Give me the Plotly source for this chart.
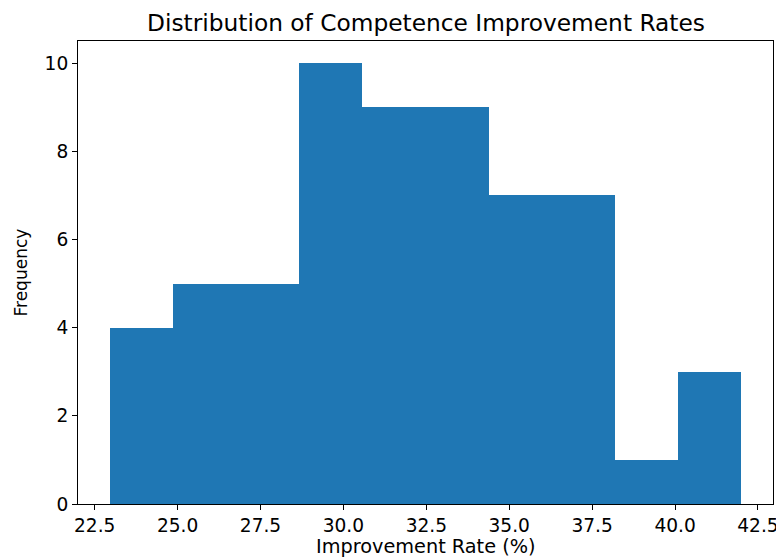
import plotly.graph_objects as go

# Histogram bins
bin_edges = [22.95, 24.855, 26.76, 28.665, 30.57, 32.475, 34.38, 36.285, 38.19, 40.095, 42.0]
counts = [4, 5, 5, 10, 9, 9, 7, 7, 1, 3]
x_ticks = [22.5, 25.0, 27.5, 30.0, 32.5, 35.0, 37.5, 40.0, 42.5]
y_ticks = [0, 2, 4, 6, 8, 10]

centers = [(a + b) / 2 for a, b in zip(bin_edges[:-1], bin_edges[1:])]
widths = [b - a for a, b in zip(bin_edges[:-1], bin_edges[1:])]

font = "DejaVu Sans"
W, H = 776, 558
L, R, T, B = 78, 3, 41, 54
fig = go.Figure(go.Bar(x=centers, y=counts, width=widths, marker=dict(color="#1f77b4", line=dict(width=0))))

lo, hi = bin_edges[0], bin_edges[-1]
m = (hi - lo) * 0.05
axis_common = dict(ticks="outside", ticklen=5, tickwidth=1, tickcolor="black",
                   showline=True, linecolor="black", linewidth=1, mirror=True,
                   showgrid=False, zeroline=False, tickfont=dict(size=18.6), automargin=False,
                   ticklabeloverflow="allow")
fig.update_layout(
    width=W, height=H,
    margin=dict(l=L, r=R, t=T, b=B, autoexpand=False),
    paper_bgcolor="white", plot_bgcolor="white",
    bargap=0,
    showlegend=False,
    font=dict(family=font, size=19, color="black"),
    xaxis=dict(range=[lo - m, hi + m], tickvals=x_ticks, ticktext=[f"{v:.1f}" for v in x_ticks], **axis_common),
    yaxis=dict(range=[0, 10.5], tickvals=y_ticks, **axis_common),
    annotations=[
        dict(text="Distribution of Competence Improvement Rates", xref="paper", yref="paper",
             x=0.5, y=1 + (T - 22) / (H - T - B), xanchor="center", yanchor="middle",
             showarrow=False, font=dict(size=23.3)),
        dict(text="Improvement Rate (%)", xref="paper", yref="paper",
             x=0.5, y=-(546 - (H - B)) / (H - T - B), xanchor="center", yanchor="middle",
             showarrow=False, font=dict(size=19.3)),
        dict(text="Frequency", xref="paper", yref="paper", textangle=-90,
             x=-(L - 20) / (W - L - R), y=0.5, xanchor="center", yanchor="middle",
             showarrow=False, font=dict(size=17)),
    ],
)

fig.write_html("out.html", config={"displayModeBar": False},
               post_script="document.body.style.margin='0';document.body.style.overflow='hidden';")
